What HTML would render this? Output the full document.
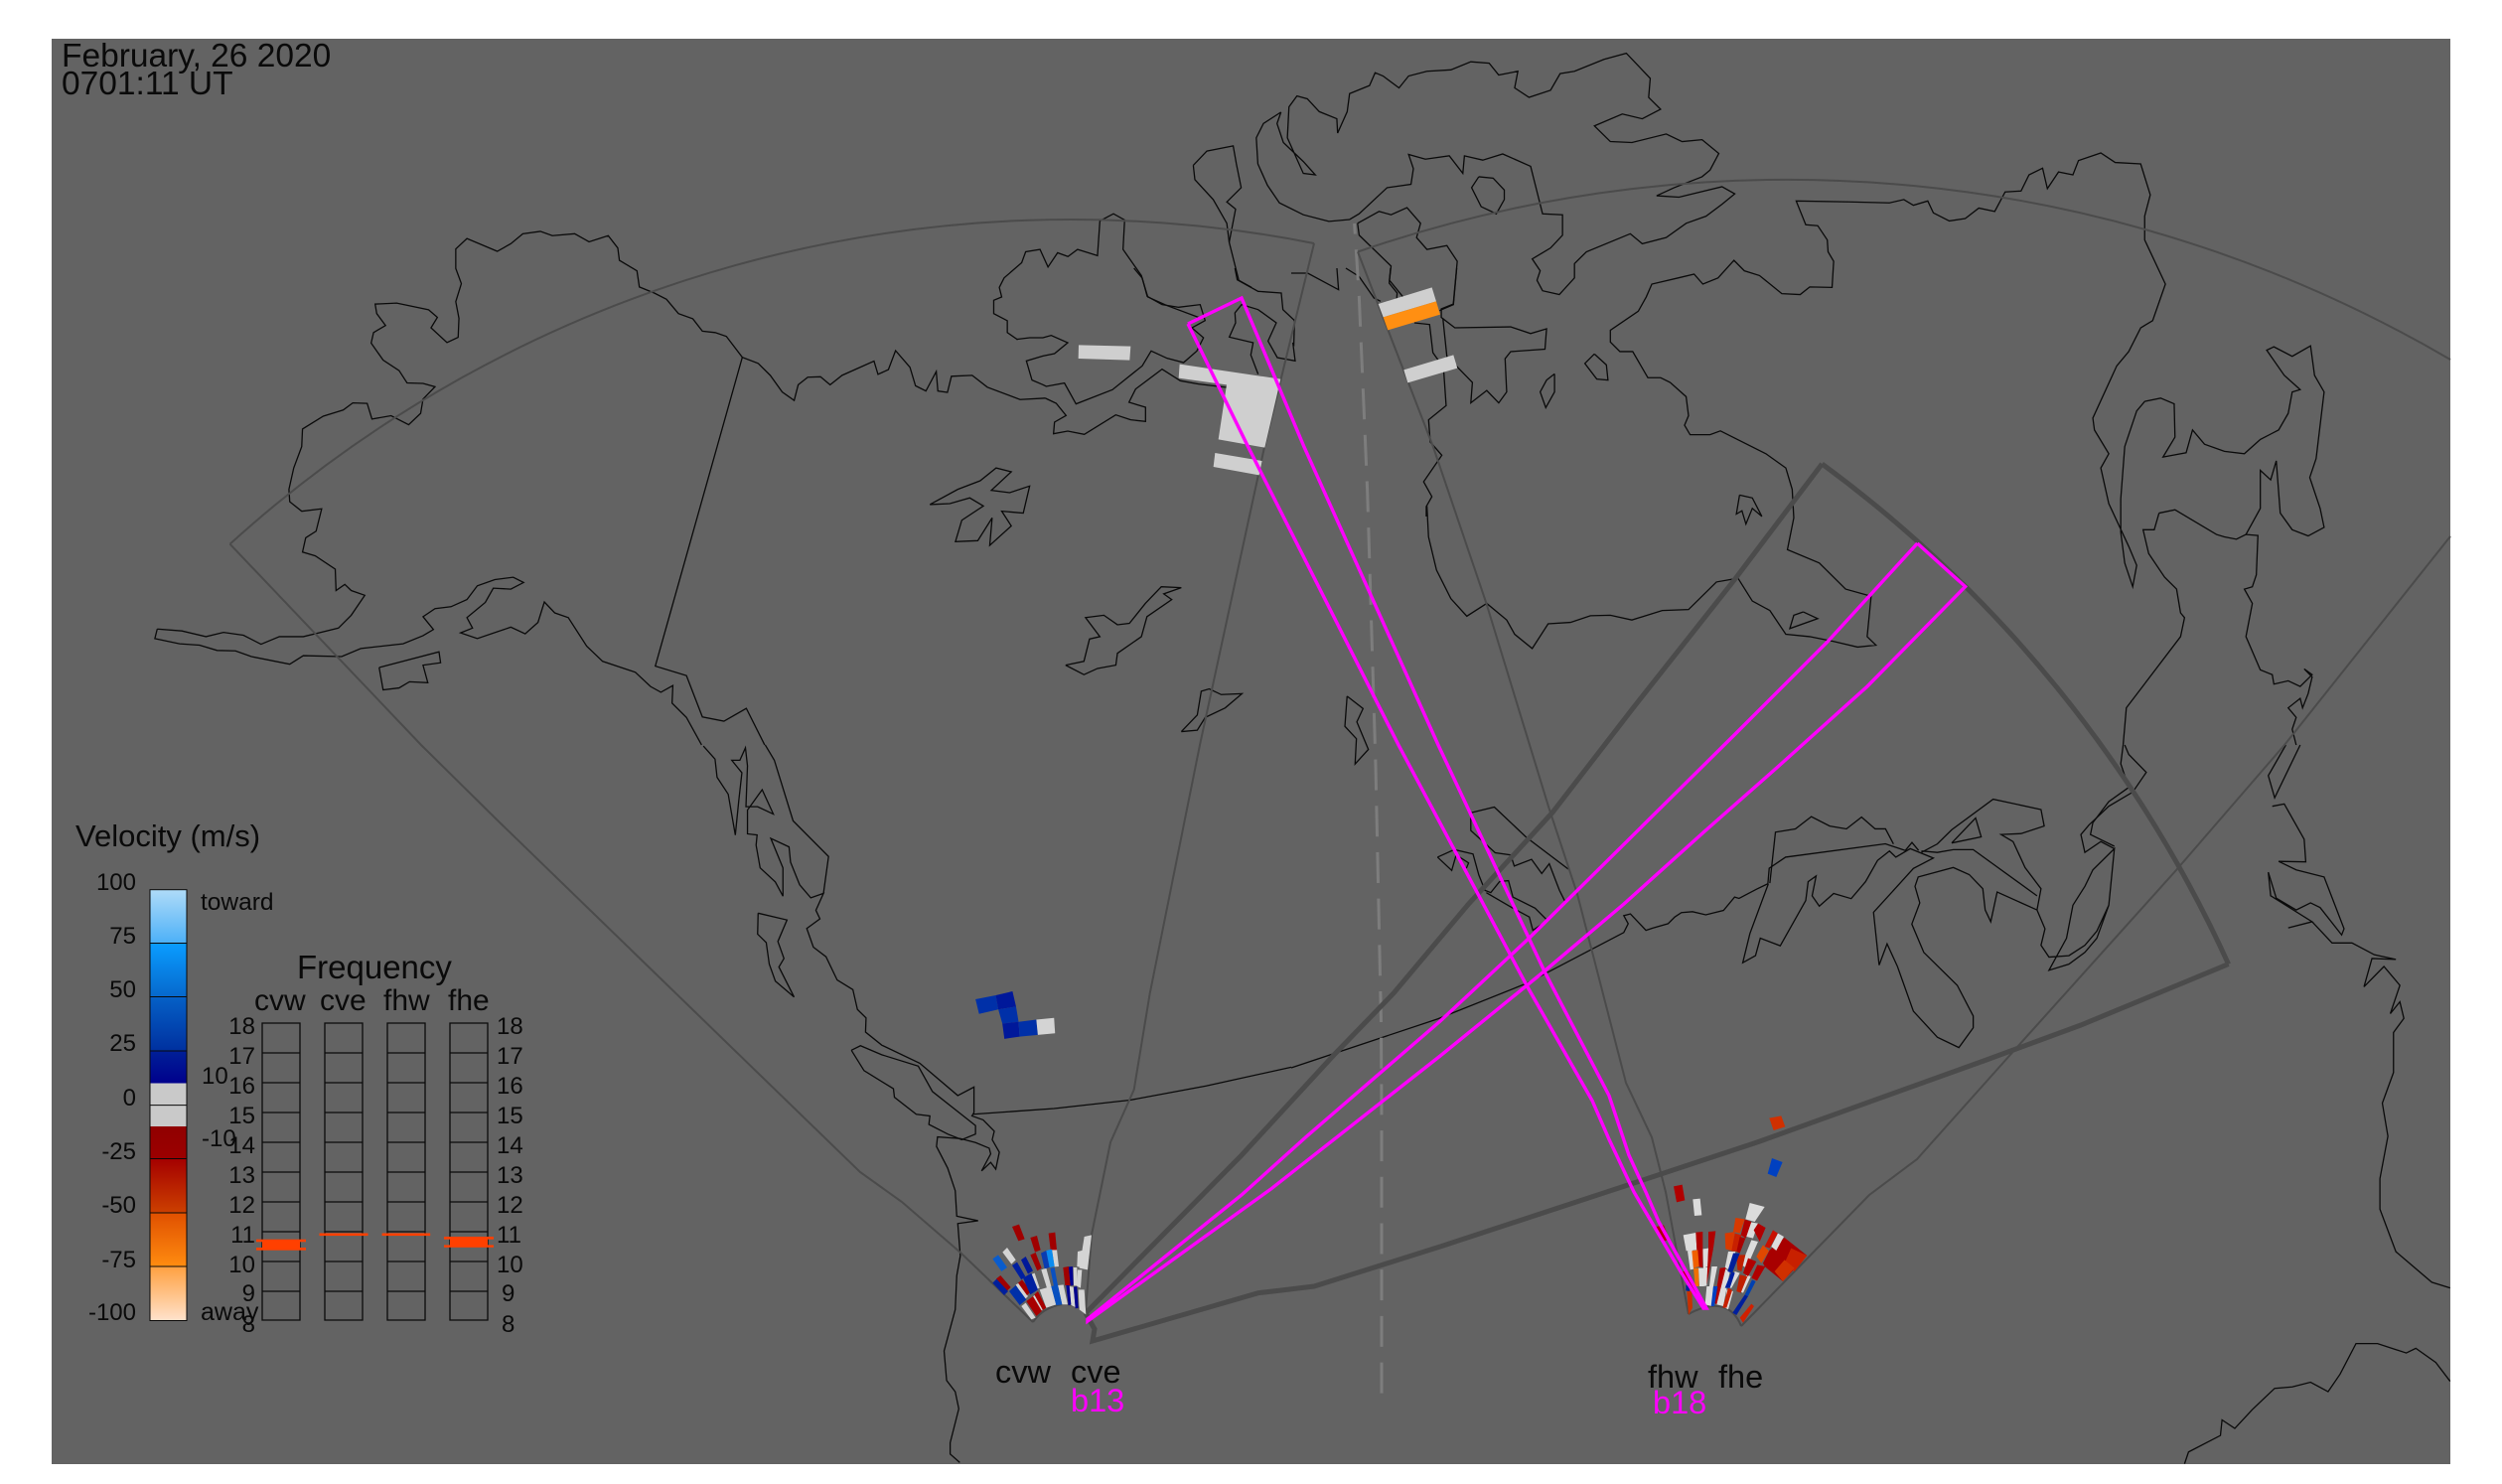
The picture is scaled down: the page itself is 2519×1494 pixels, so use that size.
<!DOCTYPE html>
<html><head><meta charset="utf-8"><style>
html,body{margin:0;padding:0;background:#fff}
svg{display:block;font-family:"Liberation Sans",Arial,sans-serif}
polyline,path{vector-effect:non-scaling-stroke;fill:none}
.c polyline{stroke:#0a0a0a;stroke-width:1.3}
.g polyline,.g path{stroke:#4b4b4b;stroke-width:2}
.t polyline,.t path{stroke:#4b4b4b;stroke-width:5}
.m polyline{stroke:#ff00ff;stroke-width:3.4}
text{fill:#0a0a0a}
.k{font-size:24px}
</style></head><body>
<svg width="2519" height="1494" viewBox="0 0 2519 1494" xmlns="http://www.w3.org/2000/svg">
<defs>
<linearGradient id="a1" x1="0" y1="0" x2="0" y2="1"><stop offset="0" stop-color="#aedbf8"/><stop offset="1" stop-color="#4cb0f8"/></linearGradient>
<linearGradient id="a2" x1="0" y1="0" x2="0" y2="1"><stop offset="0" stop-color="#0a9cff"/><stop offset="1" stop-color="#0668cc"/></linearGradient>
<linearGradient id="a3" x1="0" y1="0" x2="0" y2="1"><stop offset="0" stop-color="#0560c6"/><stop offset="1" stop-color="#00309f"/></linearGradient>
<linearGradient id="a4" x1="0" y1="0" x2="0" y2="1"><stop offset="0" stop-color="#002098"/><stop offset="1" stop-color="#00008c"/></linearGradient>
<linearGradient id="a5" x1="0" y1="0" x2="0" y2="1"><stop offset="0" stop-color="#900000"/><stop offset="1" stop-color="#9c0000"/></linearGradient>
<linearGradient id="a6" x1="0" y1="0" x2="0" y2="1"><stop offset="0" stop-color="#a40000"/><stop offset="1" stop-color="#cc4000"/></linearGradient>
<linearGradient id="a7" x1="0" y1="0" x2="0" y2="1"><stop offset="0" stop-color="#e05000"/><stop offset="1" stop-color="#ff8c10"/></linearGradient>
<linearGradient id="a8" x1="0" y1="0" x2="0" y2="1"><stop offset="0" stop-color="#ffa040"/><stop offset="1" stop-color="#ffe2cc"/></linearGradient>
</defs>
<rect width="2519" height="1494" fill="#fff"/>
<rect x="52" y="39" width="2415" height="1435" fill="#636363"/>

<!-- coastlines -->
<g class="c">
<g transform="scale(.8036 .4783)">
<polyline points="197,1324 228,1328 258,1340 280,1331 305,1337 327,1356 350,1340 380,1340 424,1322 440,1295 457,1253 440,1243 432,1230 421,1243 420,1198 395,1170 379,1162 383,1132 396,1118 403,1071 378,1076 363,1056 362,1030 368,985 378,940 379,903 405,876 430,863 442,848 460,849 466,882 490,875 512,894 527,870 530,840 545,814 530,807 510,806 500,780 480,758 465,722 468,700 483,685 472,660 470,640 497,638 537,652 548,668 540,690 560,721 574,710 575,670 571,635 578,597 571,565 571,524 585,502 623,529 640,513 655,492 677,487 692,496 720,492 738,509 762,496 774,522 776,548 798,570 801,604 820,617 835,630 850,660 868,671 880,697 896,700 910,708 930,752 950,765 965,790 980,825 995,843 1000,810 1012,794 1028,793 1040,810 1055,790 1095,760 1100,788 1113,778 1122,738 1140,773 1147,812 1160,823 1173,782 1175,823 1187,826 1192,792 1218,790 1237,815 1278,841 1310,838"/>
<polyline points="197,1324 194,1344 225,1355 250,1358 272,1369 295,1370 315,1382 363,1398 380,1380 428,1382 452,1365 505,1355 530,1338 543,1325 530,1298 545,1281 565,1277 585,1262 598,1233 620,1220 643,1215 656,1226 640,1240 618,1238 608,1268 585,1300 592,1322 577,1332 598,1344 640,1320 658,1334 674,1310 682,1267 695,1290 712,1300 735,1360 755,1392 796,1415 815,1445 828,1457 843,1443 842,1480 860,1510 879,1568"/>
<polyline points="958,1568 935,1491 907,1518 880,1509 860,1422 821,1402 930,752"/>
<polyline points="475,1405 550,1372 552,1395 530,1400 536,1437 513,1435 500,1448 480,1452 475,1405"/>
<polyline points="1165,1062 1200,1030 1228,1012 1248,985 1267,993 1242,1032 1265,1037 1290,1023 1282,1080 1255,1076 1267,1107 1240,1148 1243,1090 1225,1138 1197,1140 1205,1095 1232,1065 1215,1048 1190,1060 1165,1062"/>
<polyline points="1335,1400 1358,1392 1365,1345 1378,1340 1360,1300 1383,1295 1400,1315 1415,1312 1435,1270 1455,1235 1480,1237 1458,1250 1468,1262 1437,1298 1430,1340 1400,1375 1398,1400 1375,1407 1358,1420 1335,1400"/>
<polyline points="1480,1540 1500,1505 1505,1455 1515,1450 1530,1462 1556,1460 1535,1490 1510,1510 1500,1537 1480,1540"/>
<polyline points="1505,670 1462,643 1438,625 1430,580 1407,525 1409,463 1395,450 1378,465 1375,538 1350,525 1338,540 1325,532 1313,562 1303,525 1285,530 1280,553 1258,585 1252,605 1255,625 1245,632 1245,660 1262,675 1262,700 1275,715"/>
<polyline points="1495,348 1512,318 1545,307 1549,345 1555,395 1537,425 1548,440 1540,510 1552,590 1568,605"/>
<polyline points="1495,348 1497,378 1520,420 1537,470 1540,510"/>
</g>
<g transform="translate(1050 270) scale(.3333)">
<polyline points="275,0 300,30 315,85 360,110 410,118 475,110 490,158 450,180 485,210 465,250 425,285 375,272 327,250 300,295 210,367 100,410 65,347 10,357 0,352 -33,338 -50,280 0,265 35,258 75,225 25,203 0,210 -40,210 -80,215"/>
<polyline points="8,393 40,408 70,445 35,465 32,500 75,492 125,502 220,443 265,458 310,463 310,420 260,405 280,365 360,305 415,340 470,350 555,360"/>
<polyline points="580,0 587,35 650,70 720,75 725,125 760,158 758,230 755,225 762,280 708,270 680,220 705,165 650,125 600,110 580,135 582,165 563,208 635,225 628,262 650,320"/>
<polyline points="750,15 800,15 893,65 888,0"/>
<polyline points="915,0 955,25 1000,90 1020,100"/>
<polyline points="1050,0 1046,45 1070,75 1068,100"/>
<polyline points="1250,0 1240,110 1198,128"/>
<polyline points="1122,165 1168,170 1178,255 1210,300 1218,415 1165,458 1170,525 1205,565 1150,645 1175,690 1158,720 1158,750"/>
</g>
<g transform="translate(1260 0) scale(.8029 .4783)">
<polyline points="37,236 15,260 6,290 8,345 20,390 35,427 65,452 97,466 123,462 135,450 170,395 200,388 203,355 197,325 218,335 248,328 265,365 267,328 290,337 315,324 350,350 365,450 390,452 390,495 375,522 352,545 362,570 358,590 365,612 386,620 405,585 405,555 420,530 475,492 490,513 520,500 545,470 570,455 590,430 606,408 590,393 536,415 508,412 530,395 565,372 575,358 586,323 565,294 540,298 520,282 477,300 450,298 430,265 465,240 490,250 513,230 498,205 500,165 470,112 442,125 405,150 387,155 375,190 348,205 330,185 334,150 310,158 298,133 275,130 250,147 220,150 197,160 185,185 165,160 155,153 148,180 123,197 120,235 108,280 107,250 85,235 70,208 57,202 47,225 45,290 65,365 80,368 65,340 40,300 32,260 37,236"/>
<polyline points="285,372 303,375 317,400 317,420 307,450 288,435 276,395 285,372"/>
<polyline points="133,470 160,445 175,452 195,437 212,470 207,500 220,525 245,517 258,550 253,640 238,650 238,668 255,690 325,688 350,702 370,692 368,735 325,740 318,755 320,825 310,848 295,822 275,848 277,805 245,750 240,670"/>
<polyline points="133,470 135,495 175,560 173,590 190,625"/>
<polyline points="220,1065 222,1130 232,1200 250,1260 270,1297 295,1270 320,1305 330,1335 352,1365 372,1313 400,1310 425,1296 450,1295 477,1305 515,1285 548,1283 583,1225 610,1217 628,1265 650,1285 670,1335 700,1340 730,1350 760,1362 783,1358 772,1340 777,1255 745,1240 712,1185 672,1157 680,1090 678,1030 670,985 645,955 588,907 575,915 550,915 543,895 548,875 545,835 525,805 513,795 497,795 478,740 462,740 450,720 450,695 485,655 495,625 502,598 535,585 555,577 566,598 585,585 605,548 618,570 637,580 665,618 688,620 700,604 728,605 730,550 723,530 722,505 710,475 695,473 683,423 750,425 800,427 818,420 830,432 848,423 855,448 875,465 895,460 912,438 932,445 945,404 965,402 975,368 992,354 998,397 1012,362 1030,368 1037,338 1065,322 1083,342 1115,345 1127,410 1120,455 1120,505 1146,598 1130,675 1115,690 1100,740 1085,770 1055,880 1057,905 1075,955 1065,985 1075,1060 1100,1150 1110,1190 1105,1235 1095,1185 1090,1120 1090,1050 1095,940 1110,865 1120,845 1140,838 1157,850 1158,920 1143,962 1172,953 1180,905 1195,935 1220,950 1245,955 1265,925 1288,905 1300,870 1305,825 1315,820 1295,790 1273,737 1282,730 1305,750 1328,728 1333,790 1345,825 1335,965 1327,1005 1340,1070 1345,1110 1325,1128 1305,1115 1290,1080 1285,970 1278,1010 1265,990 1265,1070 1247,1125 1262,1127 1260,1210 1255,1235 1245,1240 1255,1270 1247,1340 1265,1410 1280,1420 1282,1440 1300,1433 1315,1445 1330,1420 1320,1408 1330,1425 1325,1460 1318,1490 1315,1470 1300,1490 1310,1510 1305,1535 1310,1568"/>
<polyline points="1138,1080 1158,1073 1210,1125 1220,1130 1235,1135 1247,1125"/>
<polyline points="1138,1080 1132,1115 1118,1115 1125,1165 1145,1215 1160,1240 1165,1290 1170,1300 1165,1340 1097,1490 1093,1568"/>
<polyline points="430,745 445,768 447,800 433,798 418,765 430,745"/>
<polyline points="380,787 380,825 369,858 362,825 370,800 380,787"/>
<polyline points="612,1042 628,1048 640,1087 628,1070 620,1103 615,1075 608,1082 612,1042"/>
<polyline points="692,1288 710,1302 675,1323 680,1295 692,1288"/>
</g>
<g transform="translate(1300 450) scale(.4464)">
<polyline points="126,562 162,590 148,620 174,682 144,715 147,658 121,630 126,562"/>
<polyline points="405,825 458,812 530,880 625,952"/>
<polyline points="405,825 405,865 460,915 495,920 503,945 542,930 565,962 582,940 605,1000 620,1030"/>
<polyline points="330,925 368,908 410,918 423,965 437,1000 450,1005 470,980 490,978 500,1015 550,1040 578,1068 545,1090 537,1060 500,1040 440,1005"/>
<polyline points="330,925 362,955 372,920 400,938 395,950"/>
<polyline points="0,1400 330,1290 530,1210 750,1095 760,1075 750,1057 765,1053 800,1090 815,1085 850,1075 865,1060 880,1050 905,1048 935,1055 975,1045 1000,1015 1010,1018 1050,997 1075,985 1078,950 1115,925 1340,895 1385,910 1400,892 1415,910"/>
</g>
<g transform="translate(1260 750) scale(.8029 .4745)">
<polyline points="650,293 657,185 682,178 702,152 725,172 746,178 765,153 782,178 795,178 805,210"/>
<polyline points="648,295 625,400 616,462 632,447 638,410 663,426 695,330 698,290 708,278 703,320 712,342 730,315 752,326 770,290 785,245 800,225 808,238 826,220 855,240 830,262 815,290 780,355 787,467 797,422 810,470 830,565 860,620 887,642 905,600 905,575 885,510 843,440 828,380 838,335 832,300 836,280 880,260 900,275 917,305 920,350 927,375 935,312 985,350 995,390 990,425 1000,450 1025,447 1045,425 1060,395 1075,340 1082,220 1055,265 1045,300 1030,340 1022,410 1000,478 1025,465 1045,440 1060,410 1075,340"/>
<polyline points="840,228 860,210 878,180 930,115 990,137 994,172 965,188 940,190 955,205 970,260 990,305 985,350"/>
<polyline points="840,225 860,228 880,222 905,222 985,320"/>
<polyline points="878,208 908,155 915,195 878,208"/>
<polyline points="1095,0 1100,20 1122,58 1105,100 1075,130 1050,170 1040,190 1045,228 1065,205 1082,220"/>
<polyline points="1093,0 1090,40 1100,90 1075,120 1055,165 1052,190 1082,215"/>
<polyline points="1297,0 1275,65 1283,112 1315,0"/>
<polyline points="1280,130 1295,125 1320,200 1322,248 1288,247 1310,265 1345,280 1370,390 1367,403 1340,345 1328,335 1310,350 1285,325 1275,270 1278,320 1330,375 1300,388 1330,375 1355,420 1380,420 1408,445 1435,455 1405,453 1395,513 1420,470 1440,510 1428,570 1440,545 1445,580 1432,610 1432,695 1418,760 1425,830 1415,920 1415,985 1435,1075 1480,1140 1503,1152"/>
<polyline points="1170,1525 1175,1500 1215,1465 1217,1432 1233,1450 1255,1410 1283,1365 1305,1362 1328,1352 1350,1372 1365,1335 1385,1270 1412,1270 1448,1290 1460,1280 1485,1310 1503,1350"/>
</g>
<g transform="translate(500 600) scale(.5102 .5702)">
<polyline points="408,265 431,288 435,320 457,350 471,422 478,360 484,312 464,290 480,290 491,268 495,300 492,372 515,372 546,385 524,342 495,378 495,420 514,422 512,440 520,480 550,505 565,530 565,480 541,428 577,443 580,470 598,510 620,533 645,525 630,555 638,570 612,587 625,620 650,637 672,678 703,695 712,730 729,745 728,770 760,793 835,825 910,882 942,867 942,912 938,918 960,925 982,945 978,960 992,982 985,1012 975,1000 957,1015 975,985 972,975 945,965 915,958 870,955 868,972 890,1010 905,1050 908,1095 950,1103 910,1108 915,1165 908,1200 905,1260 883,1333 888,1385 905,1405 912,1435 895,1495 895,1515 914,1530"/>
<polyline points="530,263 548,290 585,397 655,460 645,525"/>
<polyline points="700,802 718,794 760,810 832,830 860,875 945,935 945,950 918,960 890,950 853,933 855,918 828,915 785,885 783,870 725,838 700,802"/>
<polyline points="516,560 573,572 555,610 567,640 557,655 587,708 550,680 538,650 532,612 515,597 516,560"/>
<polyline points="940,915 1100,905 1250,890 1400,865 1568,832"/>
</g>
</g>

<!-- dashed centre line -->
<polyline points="1363.6,225 1368.3,298 1376.7,495 1385,771 1390.5,1030 1391,1130 1391,1413" style="fill:none" stroke="#7d7d7d" stroke-width="3" stroke-dasharray="31 15.7" stroke-dashoffset="20.4"/>

<!-- thin FOV lines -->
<g class="g">
<path d="M231.5,547.7 A1260.5 1260.5 0 0 1 1323,245"/>
<polyline points="231.5,547.7 424,750 500,825 866,1180 908,1210 967,1261 1040,1331"/>
<path d="M1040,1331 Q1050,1316 1070,1313 Q1085,1313 1093,1322"/>
<polyline points="1323,245 1273,450 1208,750 1157.7,1000 1141.7,1097 1118,1150 1099,1243 1093,1320"/>
<path d="M1367,253.5 A1322 1322 0 0 1 2467,362"/>
<polyline points="1367,253.5 1443,450 1496,606 1559,812 1588,900 1637,1090 1663,1145 1677,1200 1700,1323"/>
<path d="M1700,1323 Q1720,1312 1735,1316 Q1747,1320 1753,1335"/>
<polyline points="1753,1335 1882,1203 1930,1167 2031,1054 2191,876 2300,750 2467,540"/>
</g>
<!-- thick beam sector -->
<g class="t">
<polyline points="1093,1322 1250,1163 1343,1062 1403,1000 1478.6,910 1563,818 1644,713 1746,584 1834.4,467"/>
<path d="M1834.4,467 A1287 1287 0 0 1 2243.6,970.6"/>
<polyline points="2243.6,970.6 2095,1032 2000,1067 1769,1150 1645,1191 1450,1255 1323,1295 1290,1299 1266.7,1301.7 1100,1350 1102,1338 1093,1322"/>
</g>

<!-- data cells -->
<g transform="translate(950 1150) scale(.3333)">
<polygon fill="#d4d4d4" points="178,332 192,318 218,355 205,368"/>
<polygon fill="#d4d4d4" points="327,323 342,323 348,375 335,376"/>
<polygon fill="#d4d4d4" points="425,285 447,280 435,385 410,380"/>
<polygon fill="#d4d4d4" points="405,330 425,325 423,380 403,375"/>
<polygon fill="#d4d4d4" points="392,378 403,378 405,433 393,433"/>
<polygon fill="#d4d4d4" points="405,385 418,385 414,440 403,435"/>
<polygon fill="#d4d4d4" points="295,385 310,380 325,435 312,440"/>
<polygon fill="#d4d4d4" points="262,400 275,395 290,440 278,445"/>
<polygon fill="#d4d4d4" points="290,445 325,435 340,490 310,500"/>
<polygon fill="#d4d4d4" points="345,432 362,430 375,490 358,490"/>
<polygon fill="#d4d4d4" points="380,435 392,437 398,498 385,492"/>
<polygon fill="#d4d4d4" points="407,445 425,445 430,520 410,505"/>
<polygon fill="#d4d4d4" points="218,430 228,425 255,465 245,475"/>
<polygon fill="#d4d4d4" points="235,495 248,485 278,530 265,535"/>
<polygon fill="#d4d4d4" points="265,470 277,460 300,505 292,510"/>
<polygon fill="#a00000" points="207,255 228,248 245,292 226,298"/>
<polygon fill="#a00000" points="262,288 282,282 293,325 276,332"/>
<polygon fill="#a00000" points="317,275 337,272 342,325 323,325"/>
<polygon fill="#a00000" points="262,340 278,333 296,380 283,388"/>
<polygon fill="#a00000" points="361,378 378,375 383,432 367,432"/>
<polygon fill="#a00000" points="159,412 172,402 203,438 190,450"/>
<polygon fill="#a00000" points="225,425 237,415 265,450 252,462"/>
<polygon fill="#a80000" points="250,480 270,465 297,510 280,525"/>
<polygon fill="#a80000" points="274,460 285,450 310,500 300,507"/>
<polygon fill="#0a5ccc" points="148,352 165,340 192,378 175,390"/>
<polygon fill="#001f9c" points="148,425 160,413 195,450 183,462"/>
<polygon fill="#0030a8" points="198,450 218,432 250,475 230,492"/>
<polygon fill="#0020a0" points="207,372 222,362 247,405 235,415"/>
<polygon fill="#00189a" points="234,355 248,345 270,388 255,398"/>
<polygon fill="#0020a0" points="240,410 265,395 285,445 262,460"/>
<polygon fill="#0a3cb0" points="294,335 310,327 320,378 305,382"/>
<polygon fill="#0a8cf0" points="310,327 327,323 335,375 320,378"/>
<polygon fill="#0a50c0" points="322,380 335,378 345,432 333,435"/>
<polygon fill="#0850c0" points="325,435 345,430 358,490 340,492"/>
<polygon fill="#000090" points="378,376 390,375 392,432 383,433"/>
<polygon fill="#000090" points="370,432 380,432 385,490 377,492"/>
<polygon fill="#000090" points="393,437 403,435 407,500 398,502"/>
</g>
<g transform="translate(1620 1100) scale(.3333)">
<polygon fill="#d03000" points="484,77 520,70 532,103 497,114"/>
<polygon fill="#b00000" points="195,283 221,278 229,325 204,331"/>
<polygon fill="#b00000" points="142,405 165,400 182,442 160,452"/>
<polygon fill="#0040c0" points="492,198 524,210 505,255 479,245"/>
<polygon fill="#dcdcdc" points="253,322 275,320 280,370 258,372"/>
<polygon fill="#dcdcdc" points="224,430 262,423 265,475 233,478"/>
<polygon fill="#dcdcdc" points="425,333 470,345 440,390 412,382"/>
<polygon fill="#dcdcdc" points="237,478 252,475 255,533 245,535"/>
<polygon fill="#dcdcdc" points="283,472 300,470 298,525 285,530"/>
<polygon fill="#dcdcdc" points="270,530 285,530 285,585 273,585"/>
<polygon fill="#dcdcdc" points="285,528 298,528 295,583 285,585"/>
<polygon fill="#dcdcdc" points="310,525 327,525 315,585 303,585"/>
<polygon fill="#dcdcdc" points="295,585 315,585 310,645 290,640"/>
<polygon fill="#dcdcdc" points="360,480 382,480 365,535 350,530"/>
<polygon fill="#dcdcdc" points="345,530 365,540 345,645 325,640"/>
<polygon fill="#dcdcdc" points="430,445 450,450 415,530 400,520"/>
<polygon fill="#dcdcdc" points="420,390 450,395 435,440 415,435"/>
<polygon fill="#dcdcdc" points="380,540 395,545 370,590 360,590"/>
<polygon fill="#dcdcdc" points="355,595 375,600 360,655 350,650"/>
<polygon fill="#dcdcdc" points="415,550 428,555 405,605 392,600"/>
<polygon fill="#b00000" points="262,422 283,420 283,528 268,525"/>
<polygon fill="#b00000" points="300,420 322,418 315,470 300,472"/>
<polygon fill="#b00000" points="300,472 315,470 305,525 295,580"/>
<polygon fill="#b00000" points="335,530 353,528 325,640 318,635"/>
<polygon fill="#d83a00" points="350,425 380,420 372,478 352,472"/>
<polygon fill="#d83a00" points="382,378 410,382 395,425 375,420"/>
<polygon fill="#c82000" points="380,425 400,430 385,480 370,478"/>
<polygon fill="#b00000" points="410,383 430,390 413,440 398,430"/>
<polygon fill="#a80000" points="395,435 412,440 395,485 385,480"/>
<polygon fill="#b00000" points="437,415 450,395 473,408 455,450"/>
<polygon fill="#c02000" points="385,490 412,490 400,540 388,535"/>
<polygon fill="#b00000" points="420,500 445,510 420,555 405,545"/>
<polygon fill="#b00000" points="448,520 472,525 447,568 430,560"/>
<polygon fill="#c02000" points="395,550 418,555 398,605 385,600"/>
<polygon fill="#c82000" points="360,590 372,597 355,650 343,650"/>
<polygon fill="#e04800" points="445,495 465,460 483,478 460,515"/>
<polygon fill="#c81000" points="470,465 495,415 510,425 485,470"/>
<polygon fill="#a80000" points="465,515 485,475 530,438 598,492 525,570 470,525"/>
<polygon fill="#dcdcdc" points="490,465 510,425 528,435 505,477"/>
<polygon fill="#c82000" points="550,470 598,492 560,540 530,515"/>
<polygon fill="#d03000" points="500,540 530,505 560,530 525,570"/>
<polygon fill="#f06000" points="250,478 268,475 272,525 255,530"/>
<polygon fill="#f07000" points="255,530 270,530 272,585 260,585"/>
<polygon fill="#c83000" points="235,600 250,598 252,650 240,672"/>
<polygon fill="#b00000" points="220,540 240,540 295,650 280,645"/>
<polygon fill="#d02000" points="395,680 430,638 438,645 405,695"/>
<polygon fill="#001f9c" points="375,485 395,485 372,545 358,540"/>
<polygon fill="#0020a0" points="350,590 370,540 380,545 365,590"/>
<polygon fill="#0040c0" points="315,585 328,585 318,645 308,645"/>
<polygon fill="#001f9c" points="373,665 410,610 420,615 385,672"/>
<polygon fill="#0040b0" points="410,610 432,565 443,570 420,615"/>
<polygon fill="#002090" points="232,580 245,590 243,600 232,598"/>
</g>
<g transform="translate(1050 270) scale(.3333)">
<polygon fill="#cfcfcf" points="108,232 265,236 262,278 107,273"/>
<polygon fill="#cfcfcf" points="413,290 410,332 555,352 530,517 670,542 718,335"/>
<polygon fill="#cfcfcf" points="520,558 662,582 653,625 515,600"/>
<polygon fill="#cfcfcf" points="1013,108 1175,58 1188,100 1028,148"/>
<polygon fill="#ff8f12" points="1028,148 1188,100 1200,140 1042,187"/>
<polygon fill="#cfcfcf" points="1090,307 1240,262 1252,302 1102,346"/>
</g>
<g transform="translate(500 600) scale(.5102 .5702)">
<polygon fill="#0030a8" points="945,712 985,705 990,730 952,738"/>
<polygon fill="#00189a" points="985,705 1018,698 1025,725 990,730"/>
<polygon fill="#0030a8" points="990,730 1025,725 1030,752 998,755"/>
<polygon fill="#00189a" points="998,755 1030,752 1032,778 1002,782"/>
<polygon fill="#0030a8" points="1030,752 1065,748 1068,775 1032,778"/>
<polygon fill="#d4d4d4" points="1065,748 1100,745 1102,772 1068,775"/>
</g>

<!-- magenta beams -->
<g class="m">
<polyline points="1196,326 1256.7,450 1408,750 1537,992 1603,1108 1620,1147 1645,1200 1692,1280 1715,1317 1718,1317 1670,1230 1657,1200 1640,1163 1620,1103 1555,978 1448,750 1313,450 1250,300 1196,326"/>
<polyline points="1930.4,547 1840,646 1746,740 1541,943 1450,1028 1316.7,1143 1250,1203 1095,1328 1095,1330 1280,1196.7 1450,1063 1554.5,978 1635,910 1715,838 1791,771 1880,691 1978.6,590.6 1930.4,547"/>
</g>

<!-- colour bar -->
<rect x="151" y="896" width="37" height="54" fill="url(#a1)"/>
<rect x="151" y="950" width="37" height="54" fill="url(#a2)"/>
<rect x="151" y="1004" width="37" height="54" fill="url(#a3)"/>
<rect x="151" y="1058" width="37" height="32.5" fill="url(#a4)"/>
<rect x="151" y="1090.5" width="37" height="43.5" fill="#c9c9c9"/>
<rect x="151" y="1134" width="37" height="32.5" fill="url(#a5)"/>
<rect x="151" y="1166.5" width="37" height="54.5" fill="url(#a6)"/>
<rect x="151" y="1221" width="37" height="54" fill="url(#a7)"/>
<rect x="151" y="1275" width="37" height="54.5" fill="url(#a8)"/>
<g stroke="#0a0a0a" stroke-width="1">
<rect x="151" y="895.7" width="37" height="433.8" fill="none"/>
<line x1="151" x2="188" y1="949.5" y2="949.5"/><line x1="151" x2="188" y1="1003.5" y2="1003.5"/><line x1="151" x2="188" y1="1058" y2="1058"/><line x1="151" x2="188" y1="1112.6" y2="1112.6"/><line x1="151" x2="188" y1="1166.5" y2="1166.5"/><line x1="151" x2="188" y1="1221" y2="1221"/><line x1="151" x2="188" y1="1275" y2="1275"/>
</g>

<!-- frequency columns -->
<g stroke="#0a0a0a" stroke-width="1.3">
<path d="M264 1030H302V1329H264ZM264 1060H302M264 1090H302M264 1120H302M264 1150H302M264 1180H302M264 1210H302M264 1240H302M264 1270H302M264 1300H302"/>
<path d="M327 1030H365V1329H327ZM327 1060H365M327 1090H365M327 1120H365M327 1150H365M327 1180H365M327 1210H365M327 1240H365M327 1270H365M327 1300H365"/>
<path d="M390 1030H428V1329H390ZM390 1060H428M390 1090H428M390 1120H428M390 1150H428M390 1180H428M390 1210H428M390 1240H428M390 1270H428M390 1300H428"/>
<path d="M453 1030H491V1329H453ZM453 1060H491M453 1090H491M453 1120H491M453 1150H491M453 1180H491M453 1210H491M453 1240H491M453 1270H491M453 1300H491"/>
</g>
<g fill="#ff4000">
<rect x="258" y="1247.7" width="50" height="2.6"/><rect x="264" y="1248" width="38" height="10"/><rect x="258" y="1256" width="50" height="2.7"/>
<rect x="321.5" y="1241.5" width="49" height="2.6"/>
<rect x="384.6" y="1241.5" width="48.6" height="2.6"/>
<rect x="447" y="1245" width="50" height="2.7"/><rect x="453" y="1245" width="38" height="10"/><rect x="447" y="1253.4" width="50" height="2.4"/>
</g>

<!-- text -->
<text x="62" y="67" font-size="33.5">February, 26 2020</text>
<text x="62" y="95" font-size="33.5">0701:11 UT</text>
<text x="76" y="852" font-size="31">Velocity (m/s)</text>
<g class="k" text-anchor="end">
<text x="137" y="896">100</text><text x="137" y="950">75</text><text x="137" y="1004">50</text><text x="137" y="1058">25</text><text x="137" y="1113">0</text><text x="137" y="1167">-25</text><text x="137" y="1221">-50</text><text x="137" y="1276">-75</text><text x="137" y="1329">-100</text>
<text x="257" y="1041">18</text><text x="257" y="1071">17</text><text x="257" y="1101">16</text><text x="257" y="1131">15</text><text x="257" y="1161">14</text><text x="257" y="1191">13</text><text x="257" y="1221">12</text><text x="257" y="1251">11</text><text x="257" y="1281">10</text><text x="257" y="1310">9</text><text x="257" y="1341">8</text>
</g>
<g class="k">
<text x="500" y="1041">18</text><text x="500" y="1071">17</text><text x="500" y="1101">16</text><text x="500" y="1131">15</text><text x="500" y="1161">14</text><text x="500" y="1191">13</text><text x="500" y="1221">12</text><text x="500" y="1251">11</text><text x="500" y="1281">10</text><text x="505" y="1310">9</text><text x="505" y="1341">8</text>
<text x="202" y="916" font-size="24.5">toward</text><text x="202" y="1329" font-size="25">away</text><text x="203" y="1091">10</text><text x="203" y="1154">-10</text>
</g>
<text x="299" y="985" font-size="33">Frequency</text>
<g font-size="30">
<text x="256" y="1017">cvw</text><text x="322" y="1017">cve</text><text x="386" y="1017">fhw</text><text x="451" y="1017">fhe</text>
</g>
<g font-size="32.5">
<text x="1002" y="1392">cvw</text><text x="1078" y="1392">cve</text><text x="1078" y="1421" style="fill:#ff00ff">b13</text>
<text x="1659" y="1397">fhw</text><text x="1730" y="1397">fhe</text><text x="1664" y="1423" style="fill:#ff00ff">b18</text>
</g>
</svg>
</body></html>
